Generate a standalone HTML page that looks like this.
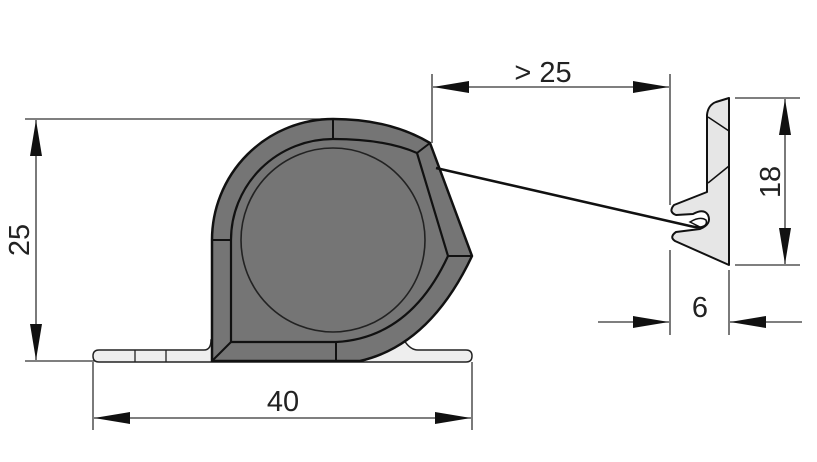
<!DOCTYPE html>
<html><head><style>html,body{margin:0;padding:0;background:#fff}svg{display:block}</style></head>
<body>
<svg width="817" height="462" viewBox="0 0 817 462" xmlns="http://www.w3.org/2000/svg" font-family="Liberation Sans, sans-serif" fill="none">
<defs>
<marker id="a" viewBox="0 0 36 12" refX="36" refY="6" markerWidth="36" markerHeight="12" markerUnits="userSpaceOnUse" orient="auto"><path d="M0,0 L36,6 L0,12 Z" fill="#111"/></marker>
</defs>
<g stroke="#333" stroke-width="1.3">
<line x1="25" y1="119" x2="333" y2="119"/>
<line x1="25" y1="361" x2="95" y2="361"/>
<line x1="36" y1="240" x2="36" y2="120" marker-end="url(#a)"/>
<line x1="36" y1="240" x2="36" y2="360" marker-end="url(#a)"/>
<line x1="93" y1="362" x2="93" y2="430"/>
<line x1="472" y1="362" x2="472" y2="430"/>
<line x1="283" y1="418" x2="94" y2="418" marker-end="url(#a)"/>
<line x1="283" y1="418" x2="471" y2="418" marker-end="url(#a)"/>
<line x1="432" y1="74" x2="432" y2="143"/>
<line x1="670" y1="74" x2="670" y2="205"/>
<line x1="551" y1="87" x2="433" y2="87" marker-end="url(#a)"/>
<line x1="551" y1="87" x2="669" y2="87" marker-end="url(#a)"/>
<line x1="735" y1="98" x2="800" y2="98"/>
<line x1="735" y1="265" x2="800" y2="265"/>
<line x1="785" y1="181" x2="785" y2="99" marker-end="url(#a)"/>
<line x1="785" y1="181" x2="785" y2="264" marker-end="url(#a)"/>
<line x1="670" y1="250" x2="670" y2="335"/>
<line x1="729" y1="270" x2="729" y2="335"/>
<line x1="598" y1="322" x2="669" y2="322" marker-end="url(#a)"/>
<line x1="802" y1="322" x2="730" y2="322" marker-end="url(#a)"/>
</g>
<!-- base plate -->
<path d="M99,350 L204,350 Q211,350 211,340 L404,340 Q410,350 418,350 L466,350 Q472,350 472,356 Q472,362 466,362 L99,362 Q93,362 93,356 Q93,350 99,350 Z" fill="#eee" stroke="#222" stroke-width="1.5"/>
<line x1="135" y1="350" x2="135" y2="362" stroke="#222" stroke-width="1.3"/>
<line x1="166" y1="350" x2="166" y2="362" stroke="#222" stroke-width="1.3"/>
<!-- housing -->
<path d="M212,361 L212,240 A121,121 0 0 1 333,119 Q390,119 430,143 L472,256 Q430,345 360,361 Z" fill="#757575" stroke="#111" stroke-width="2.5" stroke-linejoin="round"/>
<path d="M231,342 L231,240 A102,101 0 0 1 333,139 Q385,139 417,153 L448,256 Q410,338 336,342 Z" fill="#757575" stroke="#111" stroke-width="2.2" stroke-linejoin="round"/>
<circle cx="333" cy="240" r="92" fill="#757575" stroke="#222" stroke-width="1.6"/>
<g stroke="#111" stroke-width="2">
<line x1="333" y1="119" x2="333" y2="139"/>
<line x1="212" y1="240" x2="231" y2="240"/>
<line x1="336" y1="342" x2="336" y2="361"/>
<line x1="212" y1="361" x2="231" y2="342"/>
<line x1="430" y1="143" x2="417" y2="153"/>
<line x1="472" y1="256" x2="448" y2="256"/>
</g>
<path d="M436,168 L690,226 Q703,229 703,224" stroke="#111" stroke-width="2.5"/>
<!-- profile -->
<path d="M729,98 L729,265 L675,241 Q669,237 676,232 L700,229 Q712,224 708,215 Q704,208 693,214 L676,215 Q668,212 674,205 L707,192 L707,115 Q708,105 716,102 Z" fill="#e6e6e6" stroke="#111" stroke-width="2" stroke-linejoin="round"/>
<path d="M690,222 Q700,216 706,220 Q708,226 700,227 Z" fill="#fff" stroke="#111" stroke-width="1.5"/>
<line x1="708" y1="117" x2="729" y2="131" stroke="#111" stroke-width="1.5"/>
<line x1="708" y1="183" x2="729" y2="166" stroke="#111" stroke-width="1.5"/>
<g fill="#222" font-size="29">
<text x="543" y="82" text-anchor="middle">&gt; 25</text>
<text x="283" y="411" text-anchor="middle">40</text>
<text x="700" y="317" text-anchor="middle">6</text>
<text transform="translate(29,240) rotate(-90)" text-anchor="middle">25</text>
<text transform="translate(780,182) rotate(-90)" text-anchor="middle">18</text>
</g>
</svg>
</body></html>
